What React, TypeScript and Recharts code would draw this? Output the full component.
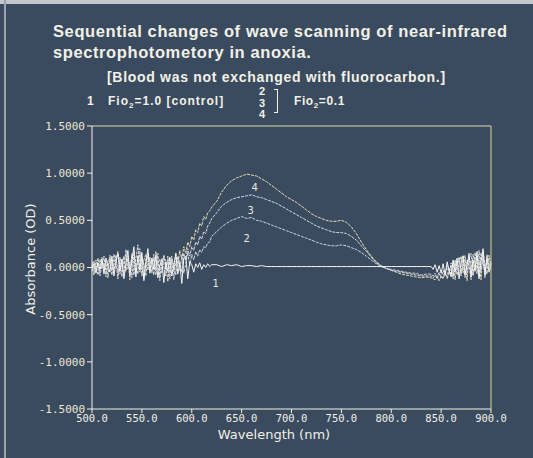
import { LineChart, Line, XAxis, YAxis, ReferenceDot } from "recharts";

// wavelength grid: finer in the two noisy ends of the scan
const range = (a: number, b: number, s: number) => {
  const out: number[] = [];
  for (let v = a; v <= b + 1e-9; v += s) out.push(v);
  return out;
};
const wavelengths = [...range(500, 620, 2), ...range(625, 835, 5), ...range(840, 900, 2)];

// curve 1: Fio2 = 1.0 (control)
const curve1 = [
  0.00, 0.04, -0.06, 0.05, -0.02, 0.08, -0.07, 0.10, 0.02, -0.05,
  0.12, -0.09, 0.06, 0.15, -0.04, 0.09, -0.12, 0.04, 0.18, -0.08,
  0.07, 0.22, -0.10, 0.12, -0.03, 0.16, -0.14, 0.05, 0.20, -0.06,
  0.10, -0.02, 0.13, -0.11, 0.03, 0.08, -0.16, 0.06, -0.04, 0.11,
  -0.09, 0.02, 0.14, -0.07, 0.05, -0.17, 0.09, 0.12, -0.12, 0.06,
  0.03, -0.05, 0.04, 0.00, 0.05, -0.02, 0.03, 0.00, 0.04, 0.01, 0.03,
  0.03, 0.01, 0.03, 0.02, 0.03, 0.01, 0.02, 0.02, 0.01, 0.02,
  0.01, 0.01, 0.01, 0.01, 0.01, 0.01, 0.01, 0.01, 0.01, 0.01,
  0.01, 0.01, 0.01, 0.01, 0.01, 0.01, 0.01, 0.01, 0.01, 0.01,
  0.01, 0.01, 0.01, 0.01, 0.01, 0.01, 0.01, 0.01, 0.01, 0.01,
  0.01, 0.01, 0.01,
  0.01, -0.02, 0.03, -0.05, 0.02, -0.06, 0.04, -0.08, 0.06, -0.03,
  -0.10, 0.08, -0.05, 0.10, -0.12, 0.05, 0.12, -0.08, 0.02, 0.15,
  -0.10, 0.08, -0.04, 0.17, -0.12, 0.06, 0.19, -0.08, 0.10, -0.05, 0.04,
];

// curves 2-4: Fio2 = 0.1, sequential
const curve2 = [
  0.06, -0.03, 0.02, -0.08, 0.09, -0.01, 0.05, -0.10, 0.07, 0.11,
  -0.03, 0.04, 0.13, -0.06, 0.08, -0.10, 0.10, 0.14, -0.02, 0.06,
  -0.11, 0.17, 0.03, -0.07, 0.15, 0.00, -0.12, 0.09, 0.12, -0.04,
  0.05, 0.14, -0.08, 0.07, -0.14, 0.10, 0.01, -0.09, 0.12, -0.05,
  0.08, -0.13, 0.06, 0.10, -0.03, 0.13, -0.06, 0.04, 0.16, 0.02,
  0.14, 0.08, 0.17, 0.12, 0.19, 0.16, 0.22, 0.21, 0.26, 0.27, 0.33,
  0.38, 0.43, 0.47, 0.50, 0.52, 0.54, 0.52, 0.53, 0.50, 0.49,
  0.47, 0.45, 0.43, 0.41, 0.39, 0.37, 0.35, 0.33, 0.31, 0.29,
  0.27, 0.25, 0.24, 0.23, 0.23, 0.24, 0.23, 0.21, 0.19, 0.16,
  0.12, 0.08, 0.04, 0.01, -0.01, -0.02, -0.03, -0.04, -0.05, -0.06,
  -0.06, -0.08, -0.07,
  -0.07, -0.09, -0.06, -0.10, -0.05, -0.11, -0.03, -0.09, 0.02, -0.07,
  0.05, -0.12, 0.08, -0.02, 0.11, -0.09, 0.04, 0.13, -0.06, 0.09,
  0.15, -0.08, 0.02, 0.12, -0.10, 0.16, 0.05, -0.06, 0.14, 0.00, 0.06,
];

const curve3 = [
  -0.04, 0.07, -0.02, 0.10, -0.09, 0.03, 0.12, -0.05, 0.00, 0.09,
  -0.08, 0.14, 0.05, -0.12, 0.11, 0.02, -0.06, 0.19, 0.07, -0.03,
  0.13, -0.08, 0.09, 0.24, -0.05, 0.11, 0.04, -0.09, 0.16, 0.08,
  -0.06, 0.10, -0.03, 0.15, -0.10, 0.04, 0.12, -0.02, 0.07, -0.12,
  0.10, 0.03, -0.08, 0.12, 0.06, -0.05, 0.15, 0.08, 0.20, 0.12,
  0.22, 0.18, 0.27, 0.24, 0.33, 0.30, 0.38, 0.36, 0.44, 0.47, 0.52,
  0.58, 0.65, 0.69, 0.72, 0.74, 0.75, 0.76, 0.77, 0.75, 0.74,
  0.72, 0.70, 0.68, 0.65, 0.62, 0.59, 0.56, 0.53, 0.50, 0.47,
  0.44, 0.42, 0.40, 0.38, 0.37, 0.37, 0.36, 0.33, 0.29, 0.23,
  0.17, 0.11, 0.05, 0.01, -0.01, -0.03, -0.04, -0.05, -0.06, -0.07,
  -0.08, -0.09, -0.09,
  -0.09, -0.11, -0.08, -0.12, -0.07, -0.10, -0.12, -0.06, -0.10, 0.00,
  -0.08, 0.06, -0.13, 0.04, 0.10, -0.07, 0.13, -0.11, 0.08, 0.02,
  -0.13, 0.14, 0.04, -0.07, 0.18, -0.03, 0.10, -0.11, 0.12, 0.07, -0.02,
];

const curve4 = [
  0.03, -0.08, 0.08, 0.01, -0.04, 0.11, -0.03, 0.06, -0.11, 0.13,
  0.04, -0.02, 0.09, 0.17, -0.07, 0.05, 0.12, -0.04, 0.10, -0.13,
  0.15, 0.06, -0.04, 0.12, 0.20, -0.09, 0.08, 0.14, -0.03, 0.11,
  0.02, -0.08, 0.17, 0.04, 0.09, -0.06, 0.13, 0.06, -0.15, 0.08,
  0.12, -0.04, 0.16, 0.02, 0.18, 0.09, 0.22, 0.15, 0.27, 0.22,
  0.33, 0.29, 0.40, 0.37, 0.47, 0.44, 0.54, 0.51, 0.58, 0.60, 0.64,
  0.70, 0.80, 0.87, 0.92, 0.95, 0.97, 0.99, 0.98, 0.97, 0.94,
  0.91, 0.87, 0.83, 0.79, 0.75, 0.72, 0.69, 0.65, 0.61, 0.57,
  0.54, 0.52, 0.50, 0.49, 0.49, 0.50, 0.48, 0.43, 0.36, 0.27,
  0.19, 0.12, 0.06, 0.02, -0.01, -0.03, -0.05, -0.07, -0.08, -0.09,
  -0.10, -0.11, -0.10,
  -0.11, -0.12, -0.13, -0.10, -0.14, -0.09, -0.11, -0.04, -0.12, -0.06,
  0.02, -0.10, 0.07, -0.08, 0.03, 0.12, -0.06, 0.09, -0.14, 0.11,
  0.04, -0.09, 0.16, -0.02, 0.08, -0.13, 0.20, 0.02, -0.07, 0.13, 0.03,
];

const xTicks = [500, 550, 600, 650, 700, 750, 800, 850, 900];
const yTicks = [-1.5, -1.0, -0.5, 0, 0.5, 1.0, 1.5];

// where the curve numbers sit (wavelength, absorbance)
const curveLabels = [
  { name: "1", x: 624, y: -0.17 },
  { name: "2", x: 655, y: 0.31 },
  { name: "3", x: 659, y: 0.61 },
  { name: "4", x: 663, y: 0.85 },
];

const data = wavelengths.map((w, i) => ({
  w,
  c1: curve1[i],
  c2: curve2[i],
  c3: curve3[i],
  c4: curve4[i],
}));

const BG = "#3a4a5f";
const TEXT = "#f2f1e6";
const MONO = "'DejaVu Sans Mono', monospace";
const SANS = "'DejaVu Sans', sans-serif";
const HEAD = "'Liberation Sans', Arial, sans-serif";

export default function App() {
  return (
    <div
      style={{
        position: "absolute",
        left: 0,
        top: 0,
        width: 533,
        height: 458,
        background: BG,
        overflow: "hidden",
        fontFamily: SANS,
        color: TEXT,
      }}
    >
      <div style={{ position: "absolute", left: 0, top: 0, width: 533, height: 4, background: "#c4c8ce" }} />
      <div style={{ position: "absolute", left: 4, top: 0, width: 2, height: 458, background: "#9aa2ac" }} />

      <div style={{ position: "absolute", left: 53, top: 21, fontFamily: HEAD, fontSize: 16.5, lineHeight: "21px", letterSpacing: 0.6, fontWeight: "bold", whiteSpace: "nowrap" }}>
        Sequential changes of wave scanning of near-infrared
        <br />
        spectrophotometory in anoxia.
      </div>
      <div style={{ position: "absolute", left: 107, top: 69, fontFamily: HEAD, fontSize: 14, letterSpacing: 0.7, fontWeight: "bold", whiteSpace: "nowrap" }}>
        [Blood was not exchanged with fluorocarbon.]
      </div>
      <div style={{ position: "absolute", left: 87, top: 94, fontFamily: HEAD, fontSize: 12, fontWeight: "bold" }}>1</div>
      <div style={{ position: "absolute", left: 108, top: 94, fontFamily: HEAD, fontSize: 12, fontWeight: "bold", whiteSpace: "nowrap", letterSpacing: 1 }}>
        Fio<sub style={{ fontSize: 8 }}>2</sub>=1.0 [control]
      </div>
      {["2", "3", "4"].map((d, i) => (
        <div
          key={d}
          style={{ position: "absolute", left: 259, top: 86 + i * 11.5, fontFamily: HEAD, fontSize: 11, lineHeight: "11px", fontWeight: "bold" }}
        >
          {d}
        </div>
      ))}
      <div style={{ position: "absolute", left: 274, top: 89, width: 3, height: 22, borderRight: `1px solid ${TEXT}`, borderTop: `1px solid ${TEXT}`, borderBottom: `1px solid ${TEXT}` }} />
      <div style={{ position: "absolute", left: 294, top: 94, fontFamily: HEAD, fontSize: 12, fontWeight: "bold", whiteSpace: "nowrap", letterSpacing: 0.6 }}>
        Fio<sub style={{ fontSize: 8 }}>2</sub>=0.1
      </div>

      <div
        style={{
          position: "absolute",
          left: 30,
          top: 259,
          transform: "translate(-50%, -50%) rotate(-90deg)",
          fontSize: 13,
          whiteSpace: "nowrap",
        }}
      >
        Absorbance (OD)
      </div>
      <div style={{ position: "absolute", left: 274, top: 427, transform: "translateX(-50%)", fontSize: 13, whiteSpace: "nowrap" }}>
        Wavelength (nm)
      </div>

      <LineChart
        width={533}
        height={458}
        data={data}
        margin={{ top: 125, right: 42, bottom: 19, left: 32 }}
        style={{ position: "absolute", left: 0, top: 0 }}
      >
        <XAxis
          dataKey="w"
          type="number"
          domain={[500, 900]}
          ticks={xTicks}
          tickFormatter={(v: number) => v.toFixed(1)}
          height={30}
          tickSize={4}
          stroke="#f2f2e0"
          tick={{ fill: TEXT, fontSize: 10.5, fontFamily: MONO }}
        />
        <XAxis
          xAxisId="top"
          dataKey="w"
          type="number"
          orientation="top"
          domain={[500, 900]}
          ticks={xTicks}
          height={1}
          tick={false}
          tickSize={3}
          stroke="#dedca0"
        />
        <YAxis
          type="number"
          domain={[-1.5, 1.5]}
          ticks={yTicks}
          tickFormatter={(v: number) => v.toFixed(4)}
          width={60}
          tickSize={5}
          stroke="#f2f2f2"
          tick={{ fill: "#ece8d2", fontSize: 11, fontFamily: MONO }}
        />
        <YAxis
          yAxisId="right"
          orientation="right"
          type="number"
          domain={[-1.5, 1.5]}
          ticks={yTicks}
          width={1}
          mirror
          tick={false}
          tickSize={4}
          stroke="#d8d890"
        />
        <Line dataKey="c4" stroke="#e4dfb4" strokeWidth={1} strokeDasharray="3 1" dot={false} isAnimationActive={false} />
        <Line dataKey="c3" stroke="#dadbe2" strokeWidth={1} strokeDasharray="3 1" dot={false} isAnimationActive={false} />
        <Line dataKey="c2" stroke="#d2d3dc" strokeWidth={1} strokeDasharray="3 1" dot={false} isAnimationActive={false} />
        <Line dataKey="c1" stroke="#f4f4f4" strokeWidth={1} dot={false} isAnimationActive={false} />
        {curveLabels.map((l) => (
          <ReferenceDot
            key={l.name}
            x={l.x}
            y={l.y}
            r={0}
            stroke="none"
            fill="none"
            label={{ value: l.name, position: "center", fill: "#e8e8e0", fontSize: 10, fontFamily: SANS }}
          />
        ))}
      </LineChart>
    </div>
  );
}
